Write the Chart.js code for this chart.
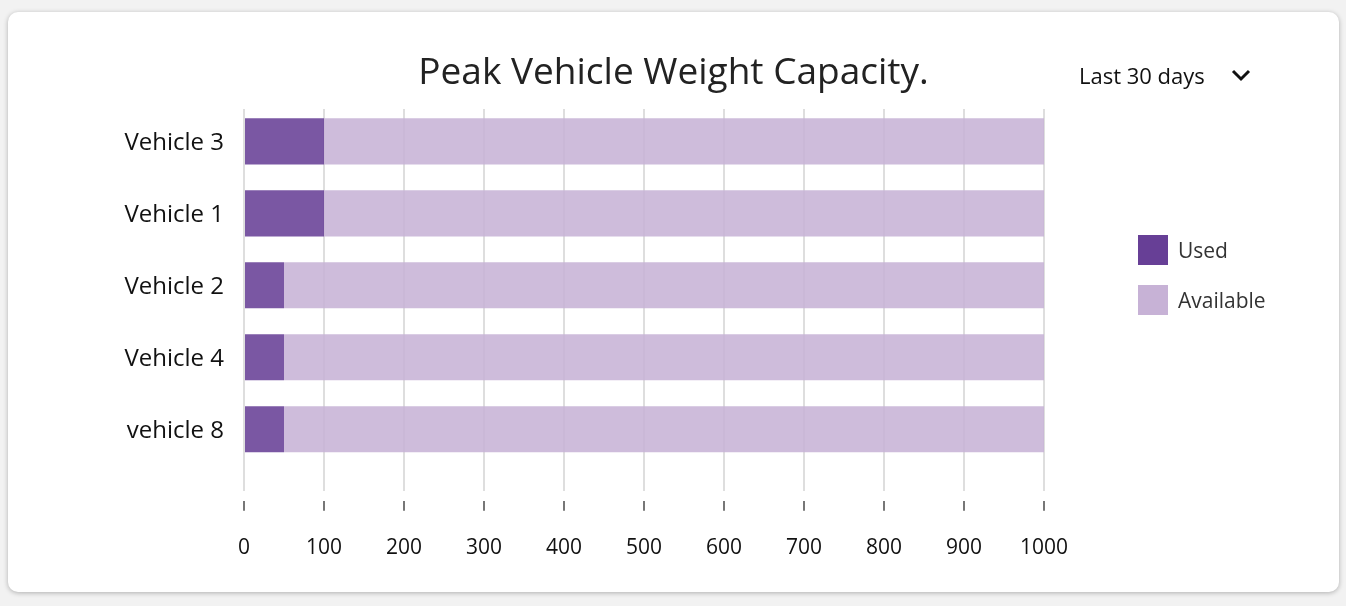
<!DOCTYPE html>
<html>
<head>
<meta charset="utf-8">
<title>Peak Vehicle Weight Capacity</title>
<script src="https://cdn.jsdelivr.net/npm/chart.js@4.4.0/dist/chart.umd.min.js"></script>
<style>
    html, body {
        margin: 0;
        padding: 0;
        background: #f2f2f2;
        font-family: "Open Sans", Lato, sans-serif;
    }
    .card {
        position: absolute;
        left: 8px;
        top: 12px;
        width: 1331px;
        height: 580px;
        background: #fff;
        border-radius: 10px;
        box-shadow: 0 1px 5px rgba(0, 0, 0, 0.28);
    }
    .chart-box {
        position: absolute;
        left: 0;
        top: 0;
        width: 1331px;
        height: 580px;
    }
    .range {
        position: absolute;
        left: 1071px;
        top: 48px;
        height: 30px;
        display: flex;
        align-items: center;
        font-size: 22px;
        color: #111;
    }
    .range svg {
        margin-left: 26px;
    }
    .legend {
        position: absolute;
        left: 1130px;
        top: 223px;
    }
    .legend-item {
        display: flex;
        align-items: center;
        height: 30px;
        margin-bottom: 20px;
        font-size: 21px;
        color: #333;
    }
    .legend-item span {
        width: 30px;
        height: 30px;
        margin-right: 10px;
    }
</style>
</head>
<body>
<div class="card">
    <div class="chart-box"><canvas id="capacityChart"></canvas></div>
    <div class="range">Last 30 days
        <svg width="20" height="13" viewBox="0 0 20 13"><polyline points="2,2 10,10 18,2" fill="none" stroke="#111" stroke-width="3"/></svg>
    </div>
    <div class="legend" id="legend"></div>
</div>
<script>
const vehicles = ['Vehicle 3', 'Vehicle 1', 'Vehicle 2', 'Vehicle 4', 'vehicle 8'];
const used = [100, 100, 50, 50, 50];
const available = [900, 900, 950, 950, 950];
const seriesNames = ['Used', 'Available'];
const seriesColors = ['#673f96', '#c7b2d6'];

Chart.defaults.font.family = '"Open Sans", Lato, sans-serif';

// index axis is linear so the plot can keep extra room under the last bar
const toPoints = values => values.map((v, i) => ({ x: v, y: i }));

const ctx = document.getElementById('capacityChart').getContext('2d');
const chart = new Chart(ctx, {
    type: 'bar',
    data: {
        datasets: [used, available].map((values, i) => ({
            label: seriesNames[i],
            data: toPoints(values),
            backgroundColor: seriesColors[i] + 'df',
            borderWidth: 0,
            barPercentage: 0.8,
            categoryPercentage: 0.8
        }))
    },
    options: {
        indexAxis: 'y',
        responsive: true,
        maintainAspectRatio: false,
        animation: false,
        layout: {
            padding: { top: 0, left: 0, right: 0, bottom: 6 }
        },
        plugins: {
            legend: { display: false },
            tooltip: { enabled: false },
            title: {
                display: true,
                text: 'Peak Vehicle Weight Capacity.',
                color: '#222',
                font: { size: 37, weight: 'normal' },
                padding: { top: 39, bottom: 13.6 }
            }
        },
        scales: {
            x: {
                stacked: true,
                min: 0,
                max: 1000,
                border: { display: false },
                grid: {
                    color: '#dedede',
                    lineWidth: 2,
                    tickColor: '#777',
                    tickWidth: 2,
                    tickLength: 20,
                    tickBorderDash: [10, 10],
                    tickBorderDashOffset: 10
                },
                ticks: {
                    stepSize: 100,
                    padding: 25,
                    color: '#111',
                    font: { size: 21 },
                    callback: v => String(v)
                }
            },
            y: {
                type: 'linear',
                stacked: true,
                reverse: true,
                offset: false,
                bounds: 'data',
                min: -0.45,
                max: 4.855,
                afterFit: scale => { scale.width = 236; },
                afterBuildTicks: scale => {
                    scale.ticks = vehicles.map((name, i) => ({ value: i }));
                },
                border: { display: false },
                grid: { display: false, drawTicks: false, offset: false },
                ticks: {
                    autoSkip: false,
                    padding: 20,
                    labelOffset: 2,
                    color: '#111',
                    font: { size: 24 },
                    callback: v => vehicles[v] ?? ''
                }
            },
            // empty right axis that keeps room for the legend
            side: {
                type: 'linear',
                position: 'right',
                display: false,
                afterFit: scale => { scale.width = 295; }
            }
        }
    }
});

const legendEl = document.getElementById('legend');
chart.data.datasets.forEach((ds, i) => {
    const item = document.createElement('div');
    item.className = 'legend-item';
    const box = document.createElement('span');
    box.style.background = seriesColors[i];
    item.appendChild(box);
    item.appendChild(document.createTextNode(ds.label));
    legendEl.appendChild(item);
});
</script>
</body>
</html>
